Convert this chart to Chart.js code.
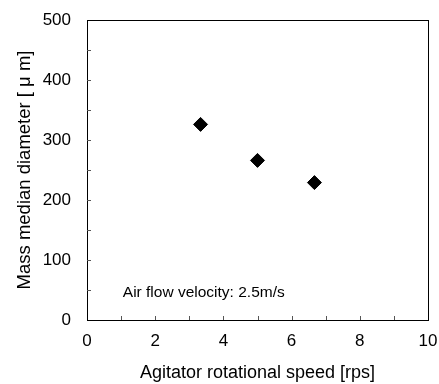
<!DOCTYPE html>
<html>
<head>
<meta charset="utf-8">
<script src="https://cdn.jsdelivr.net/npm/chart.js@4"></script>
<style>
  html, body { margin: 0; padding: 0; background: #fff; }
  #wrap { width: 439px; height: 384px; position: relative; }
</style>
</head>
<body>
<div id="wrap"><canvas id="c"></canvas></div>
<script>
// data
const speeds = [3.33, 5.0, 6.67];        // rps
const diameters = [326, 266, 229];       // µm
const xTicks = [0, 2, 4, 6, 8, 10];
const yTicks = [0, 100, 200, 300, 400, 500];
const note = 'Air flow velocity: 2.5m/s';

const FONT = 'Arial, "Liberation Sans", sans-serif';

// frame + inward ticks + note
const framePlugin = {
    id: 'frame',
    afterDraw(chart) {
        const { ctx, chartArea: a, scales } = chart;
        const xs = scales.x, ys = scales.y;
        ctx.save();
        ctx.strokeStyle = '#000';
        ctx.lineWidth = 1;
        ctx.strokeRect(Math.round(a.left) + 0.5, Math.round(a.top) + 0.5,
            Math.round(a.right - a.left), Math.round(a.bottom - a.top));
        ctx.strokeStyle = '#555';
        // x ticks every 1
        for (let v = 1; v < 10; v++) {
            const px = Math.round(xs.getPixelForValue(v)) + 0.5;
            ctx.beginPath(); ctx.moveTo(px, a.bottom); ctx.lineTo(px, a.bottom - 4); ctx.stroke();
        }
        // y ticks every 50
        for (let v = 50; v < 500; v += 50) {
            const py = Math.round(ys.getPixelForValue(v)) + 0.5;
            ctx.beginPath(); ctx.moveTo(a.left, py); ctx.lineTo(a.left + 4, py); ctx.stroke();
        }
        ctx.fillStyle = '#000';
        ctx.font = '15.5px ' + FONT;
        ctx.textBaseline = 'middle';
        ctx.fillText(note, xs.getPixelForValue(1.05), ys.getPixelForValue(45));
        ctx.restore();
    }
};

new Chart(document.getElementById('c'), {
    type: 'scatter',
    data: {
        datasets: [{
            data: speeds.map((s, i) => ({ x: s, y: diameters[i] })),
            pointStyle: 'rectRot',
            radius: 7,
            backgroundColor: '#000',
            borderColor: '#000',
            borderWidth: 1
        }]
    },
    options: {
        responsive: true,
        maintainAspectRatio: false,
        animation: false,
        layout: { padding: { top: 20, right: 11, left: 0, bottom: 0 } },
        plugins: { legend: { display: false }, tooltip: { enabled: false } },
        scales: {
            x: {
                type: 'linear', min: 0, max: 10,
                afterBuildTicks: s => { s.ticks = xTicks.map(v => ({ value: v })); },
                afterFit: s => { s.height = 64; s.paddingLeft = 0; s.paddingRight = 0; },
                grid: { display: false, drawTicks: false },
                border: { display: false },
                ticks: { color: '#000', font: { family: FONT, size: 17 }, padding: 11, maxRotation: 0 },
                title: { display: true, text: 'Agitator rotational speed [rps]', color: '#000',
                    font: { family: FONT, size: 18 }, padding: { top: 0, bottom: 0 } }
            },
            y: {
                type: 'linear', min: 0, max: 500,
                afterBuildTicks: s => { s.ticks = yTicks.map(v => ({ value: v })); },
                afterFit: s => { s.width = 87; s.paddingTop = 0; s.paddingBottom = 0; },
                grid: { display: false, drawTicks: false },
                border: { display: false },
                ticks: { color: '#000', font: { family: FONT, size: 17 }, padding: 16 },
                title: { display: true, text: 'Mass median diameter [ μ m]', color: '#000',
                    font: { family: FONT, size: 18.5 }, padding: { top: 14, bottom: 0 } }
            }
        }
    },
    plugins: [framePlugin]
});
</script>
</body>
</html>
